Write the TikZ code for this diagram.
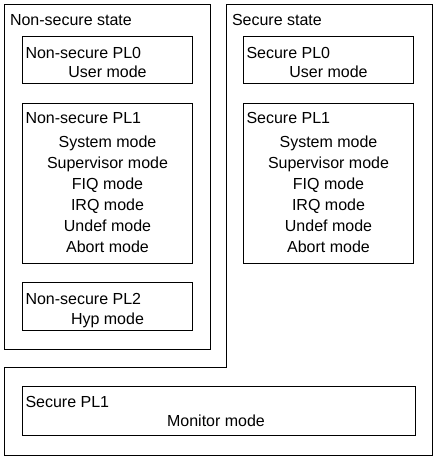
\documentclass[tikz,border=0pt]{standalone}
\usepackage{fontspec}
\setmainfont{Liberation Sans}
\usetikzlibrary{positioning}
\tikzset{
    % one unit = one pixel of the layout, y grows downwards
    px/.style={x=1pt, y=-1pt},
    base/.style={
        font=\fontsize{16pt}{19pt}\selectfont,
        line width=1pt,
    },
    % State frame
    state/.style={
        base,
        draw,
        rectangle,
        inner sep=0pt,
        anchor=north west,
    },
    % Privilege level box
    level/.style={
        base,
        draw,
        rectangle,
        inner sep=0pt,
        anchor=north west,
        minimum width=170pt,
    },
    % Box heading
    title/.style={
        base,
        inner sep=0pt,
        anchor=base west,
    },
    % Processor mode
    mode/.style={
        base,
        inner sep=0pt,
        anchor=base,
    },
}

\begin{document}
\begin{tikzpicture}[px]
% Fix the canvas
\useasboundingbox (0,0) rectangle (436,464);

%NONSECURE_BEGIN%
    \node[state, minimum width=206pt, minimum height=345pt] (nsstate) at (4,4) {};
    \node[title] (nsstate-t) at ([shift={(5.5,21)}]nsstate.north west) {Non-secure state};
    % PL0
    \node[level, minimum height=47pt] (ns0) at (22,36) {};
    \node[title] (ns0-t) at ([shift={(3,22)}]ns0.north west) {Non-secure PL0};
    \node[mode] (ns0-0) at ([shift={(0,41.5)}]ns0.north) {User mode};
    % PL1
    \node[level, minimum height=160pt] (ns1) at (22,103) {};
    \node[title] (ns1-t) at ([shift={(3,20.5)}]ns1.north west) {Non-secure PL1};
    \foreach \m [count=\i from 0] in {System mode,Supervisor mode,FIQ mode,IRQ mode,Undef mode,Abort mode}
        \node[mode] (ns1-\i) at ([shift={(0,{44.5+21*\i})}]ns1.north) {\m};
    % PL2
    \node[level, minimum height=48pt] (ns2) at (22,282) {};
    \node[title] (ns2-t) at ([shift={(3,22)}]ns2.north west) {Non-secure PL2};
    \node[mode] (ns2-0) at ([shift={(0,42.5)}]ns2.north) {Hyp mode};
%NONSECURE_END%

%SECURE_BEGIN%
    % L-shaped frame round the secure side
    \draw[base] (226,4) -- (432,4) -- (432,455) -- (4,455) -- (4,367) -- (226,367) -- cycle;
    \node[title] (sstate-t) at (231.5,25) {Secure state};
    % PL0
    \node[level, minimum height=47pt] (s0) at (243,36) {};
    \node[title] (s0-t) at ([shift={(3,22)}]s0.north west) {Secure PL0};
    \node[mode] (s0-0) at ([shift={(0,41.5)}]s0.north) {User mode};
    % PL1
    \node[level, minimum height=160pt] (s1) at (243,103) {};
    \node[title] (s1-t) at ([shift={(3,20.5)}]s1.north west) {Secure PL1};
    \foreach \m [count=\i from 0] in {System mode,Supervisor mode,FIQ mode,IRQ mode,Undef mode,Abort mode}
        \node[mode] (s1-\i) at ([shift={(0,{44.5+21*\i})}]s1.north) {\m};
    % Monitor
    \node[level, minimum width=393pt, minimum height=49pt] (mon) at (22,386) {};
    \node[title] (mon-t) at ([shift={(3,21)}]mon.north west) {Secure PL1};
    \node[mode] (mon-0) at ([shift={(-3,40.5)}]mon.north) {Monitor mode};
%SECURE_END%
\end{tikzpicture}
\end{document}
